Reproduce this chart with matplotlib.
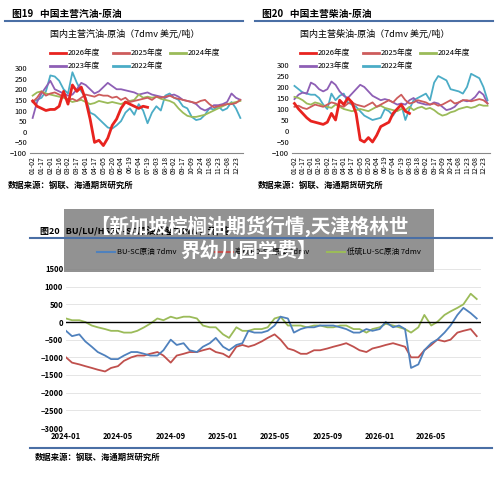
import matplotlib
matplotlib.use("Agg")
import matplotlib.pyplot as plt
import numpy as np
import pandas as pd
from matplotlib.patches import Rectangle
from matplotlib.lines import Line2D

plt.rcParams['font.family'] = ['Noto Sans CJK SC', 'DejaVu Sans']

top_ticks = ["01-02","01-17","02-01","02-16","03-02","03-17","04-01","04-17","05-05","05-20","06-04","06-19",
             "07-04","07-19","08-03","08-18","09-02","09-17","10-09","10-24","11-08","11-23","12-08","12-23"]
years = ["2026年度","2025年度","2024年度","2023年度","2022年度"]
ycolors = ["#e8231f","#cd5c5c","#9bbb59","#8e5fb5","#4bacc6"]

gas = {
 "2026年度":[145,120,110,100,105,105,120,190,130,220,190,210,150,60,-50,-40,-65,-30,30,60,110,140,130,120,110,120,115],
 "2025年度":[140,160,190,170,180,185,175,165,150,155,145,160,175,170,165,175,170,170,160,165,150,160,140,145,150,155,160,150,165,160,165,170,160,155,150,145,140,135,145,150,130,115,120,125,130,130,135,150],
 "2024年度":[170,185,190,180,175,170,165,160,150,140,145,150,140,130,135,145,140,135,140,135,130,140,145,150,175,160,165,160,165,155,150,145,135,110,90,75,70,70,75,80,90,100,110,120,130,135,140,145],
 "2023年度":[65,140,180,210,240,200,190,180,170,175,200,230,220,200,180,190,210,230,215,200,200,195,190,185,175,180,185,175,170,165,160,170,175,165,150,145,140,130,110,100,110,125,125,130,140,180,160,150],
 "2022年度":[140,150,160,190,265,260,240,200,180,280,230,190,160,90,80,60,40,20,15,30,50,90,110,80,130,100,40,90,120,100,170,180,160,150,120,110,70,55,60,80,110,105,120,100,110,140,110,65],
}
diesel = {
 "2026年度":[125,100,80,60,45,40,35,30,40,80,50,140,120,150,130,80,-40,-50,-30,-50,-20,20,30,40,80,100,120,90,80],
 "2025年度":[110,115,105,100,110,120,115,110,120,130,125,115,110,125,130,120,115,110,120,130,110,120,130,140,130,150,165,140,125,130,140,135,130,120,125,115,120,130,140,125,130,140,140,135,140,145,140,125],
 "2024年度":[155,150,140,125,120,130,125,115,110,105,120,110,100,95,90,95,100,95,90,100,110,115,105,100,95,90,100,95,110,95,105,110,100,105,95,80,70,75,85,90,100,105,110,105,110,120,115,115],
 "2023年度":[145,165,175,170,220,210,190,180,190,225,210,180,160,150,170,190,210,200,180,160,150,140,145,140,130,120,125,120,140,150,130,125,120,120,130,125,110,95,100,110,130,140,135,140,155,180,165,125],
 "2022年度":[205,190,175,170,165,165,150,120,100,170,140,160,170,130,120,110,90,70,60,50,55,60,100,90,70,100,120,50,100,140,150,160,170,140,220,250,240,230,190,185,180,170,200,260,250,240,200,140],
}

bu_sc = [-250,-400,-350,-550,-700,-850,-950,-1050,
         -1050,-950,-850,-850,-900,-950,-950,-800,
         -500,-650,-600,-800,-850,-700,-600,-450,
         -700,-800,-650,-600,-250,-300,-300,-250,
         -100,150,100,-300,-200,-150,-150,-100,
         -100,-100,-150,-200,-300,-300,-200,-250,
         -200,0,-150,-100,-200,-1300,-1200,-800,
         -600,-500,-300,-100,200,400,250,100]
hsfo_sc = [-1000,-1150,-1200,-1250,-1300,-1350,-1400,-1300,
           -1250,-1100,-1000,-950,-950,-900,-850,-950,
           -1150,-950,-900,-850,-850,-800,-750,-850,
           -900,-1000,-700,-650,-700,-650,-550,-450,
           -350,-500,-750,-800,-900,-900,-800,-800,
           -750,-700,-650,-600,-700,-800,-850,-750,
           -700,-650,-600,-650,-700,-1000,-1000,-800,
           -650,-500,-550,-500,-300,-250,-200,-400]
lu_sc = [100,50,50,0,-100,-150,-200,-250,
         -250,-300,-300,-250,-150,-50,100,50,
         150,100,150,150,100,-100,-150,-150,
         -350,-450,-150,-250,-250,-200,-200,-150,
         100,150,-100,-100,-100,-150,-100,-100,
         -150,-150,-100,-100,-200,-200,-300,-200,
         -150,-50,-100,-150,-200,-300,-150,200,
         -100,0,200,300,400,500,800,650]
bottom_ticks = ["2024-01","2024-05","2024-09","2025-01","2025-05","2025-09","2026-01","2026-05"]

W, H = 500, 482
fig = plt.figure(figsize=(5, 4.82), dpi=100)
fig.patch.set_facecolor("white")

def ax_px(x0, y0, x1, y1):
    return fig.add_axes([x0 / W, 1 - y1 / H, (x1 - x0) / W, (y1 - y0) / H])

def T(x, y, s, **kw):
    fig.text(x / W, 1 - y / H, s, **kw)

def rule(x0, x1, y, color="#4a6fa5", lw=1.5):
    fig.add_artist(Line2D([x0 / W, x1 / W], [1 - y / H, 1 - y / H], color=color, lw=lw))

def top_chart(ox, axx0, axx1, axy0, axy1, fig_title, sub, data):
    T(ox + 12, 14, fig_title, fontsize=7, fontweight="bold", va="center")
    rule(ox + 5, ox + 243, 21)
    T(ox + 125, 34, sub, fontsize=6.5, ha="center", va="center")
    pos = [(ox + 50, 53), (ox + 113, 53), (ox + 170, 53), (ox + 50, 66), (ox + 113, 66)]
    for (lx, ly), name, c in zip(pos, years, ycolors):
        fig.add_artist(Line2D([lx / W, (lx + 16) / W], [1 - ly / H] * 2, color=c, lw=2))
        T(lx + 18, ly, name, fontsize=5.5, va="center")
    ax = ax_px(axx0, axy0, axx1, axy1)
    for name, c in zip(years[::-1], ycolors[::-1]):
        v = data[name]
        x = np.arange(len(v)) * 0.5
        ax.plot(x, v, color=c, lw=2 if name == "2026年度" else 1.3)
    ax.set_ylim(-100, 300)
    ax.set_yticks(range(-100, 301, 50))
    ax.set_xlim(-0.3, 23.8)
    ax.set_xticks(range(24))
    ax.set_xticklabels(top_ticks, fontsize=5)
    ax.tick_params(axis="y", labelsize=5.5, length=0, pad=2)
    ax.tick_params(axis="x", length=0, pad=2, labelrotation=90)
    for s in ax.spines.values():
        s.set_visible(False)
    ax.spines["bottom"].set_visible(True)
    ax.spines["bottom"].set_color("#888888")
    T(ox + 8, 185, "数据来源：钢联、海通期货研究所", fontsize=6, va="center", fontweight="bold")
    return ax

top_chart(0, 30, 243, 68, 153, "图19   中国主营汽油-原油", "国内主营汽油-原油（7dmv 美元/吨）", gas)
top_chart(250, 292, 490, 65, 153, "图20   中国主营柴油-原油", "国内主营柴油-原油（7dmv 美元/吨）", diesel)

T(40, 231, "图20   BU/LU/HSFO-SC原油价差7dmv，元/吨", fontsize=6.5, va="center", fontweight="bold")
rule(30, 492, 238)
leg = [(97, "BU-SC原油 7dmv", "#4f81bd"), (215, "高硫FO-SC原油 7dmv", "#c0504d"), (327, "低硫LU-SC原油 7dmv", "#9bbb59")]
for lx, name, c in leg:
    fig.add_artist(Line2D([lx / W, (lx + 18) / W], [1 - 252 / H] * 2, color=c, lw=1.5))
    T(lx + 20, 252, name, fontsize=5.5, va="center")
ax = ax_px(66, 269, 481, 428)
dates = pd.date_range("2024-01-01", periods=len(bu_sc), freq="SMS")
ax.plot(dates, hsfo_sc, color="#c0504d", lw=1.3)
ax.plot(dates, lu_sc, color="#9bbb59", lw=1.3)
ax.plot(dates, bu_sc, color="#4f81bd", lw=1.3)
ax.axhline(0, color="black", lw=1)
ax.set_ylim(-3000, 1500)
ax.set_yticks(range(-3000, 1501, 500))
ax.grid(axis="y", color="#e0e0e0", lw=0.6)
ax.set_xlim(pd.Timestamp("2024-01-01"), pd.Timestamp("2026-08-25"))
ax.set_xticks(pd.to_datetime([t + "-01" for t in bottom_ticks]))
ax.set_xticklabels(bottom_ticks, fontsize=5.5, fontweight="bold")
ax.tick_params(axis="y", labelsize=5.5, length=0, pad=2)
ax.tick_params(axis="x", length=0, pad=3)
for lbl in ax.get_yticklabels():
    lbl.set_fontweight("bold")
for s in ax.spines.values():
    s.set_visible(False)
rule(30, 492, 448, lw=1.5)
T(35, 457, "数据来源：钢联、海通期货研究所", fontsize=6, va="center", fontweight="bold")

fig.add_artist(Rectangle((64 / W, 1 - 272 / H), (434 - 64) / W, (272 - 209) / H,
                         transform=fig.transFigure, facecolor="#7f7f7f", alpha=0.85, edgecolor="none"))
T(249, 226, "【新加坡棕榈油期货行情,天津格林世", fontsize=14, color="white", ha="center", va="center", fontweight="bold")
T(249, 251, "界幼儿园学费】", fontsize=14, color="white", ha="center", va="center", fontweight="bold")

fig.savefig("out.png", dpi=100, facecolor="white")
